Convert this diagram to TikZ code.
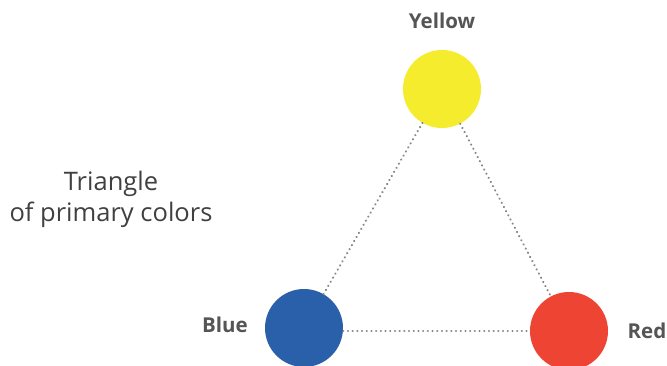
\documentclass[tikz,border=0pt]{standalone}
\usepackage{fontspec}
\setmainfont{Open Sans}
\definecolor{cyellow}{HTML}{F6EC2E}
\definecolor{cblue}{HTML}{2A5FAA}
\definecolor{cred}{HTML}{EE4433}
\definecolor{labelgray}{HTML}{555555}
\definecolor{dotgray}{HTML}{858585}
\tikzset{
  primary/.style={circle, minimum size=78pt, inner sep=0pt},
  colorlabel/.style={font=\fontsize{20.5}{22}\selectfont\bfseries, text=labelgray},
  link/.style={dotgray, line width=2.3pt, dash pattern=on 0.1pt off 4.6pt, line cap=round}
}
\begin{document}
\begin{tikzpicture}[x=1pt,y=-1pt]
    \useasboundingbox (0,0) rectangle (667,365);
    % the three primaries
    \node[primary, fill=cyellow] (yellow) at (442,89) {};
    \node[primary, fill=cblue] (blue) at (304,328) {};
    \node[primary, fill=cred] (red) at (569,331) {};

    % their names
    \node[colorlabel] (yellowlabel) at (442,21) {Yellow};
    \node[colorlabel] (bluelabel) at (225,325) {Blue};
    \node[colorlabel] (redlabel) at (647,331) {Red};

    % dotted sides of the triangle
    \draw[link] (yellow) -- (blue);
    \draw[link] (yellow) -- (red);
    \draw[link] (blue.east |- red.west) -- (red.west);

    % caption
    \node[align=center, text=black!75, font=\fontsize{25.5}{31}\selectfont] (caption) at (111,199) {Triangle\\of primary colors};
\end{tikzpicture}
\end{document}
